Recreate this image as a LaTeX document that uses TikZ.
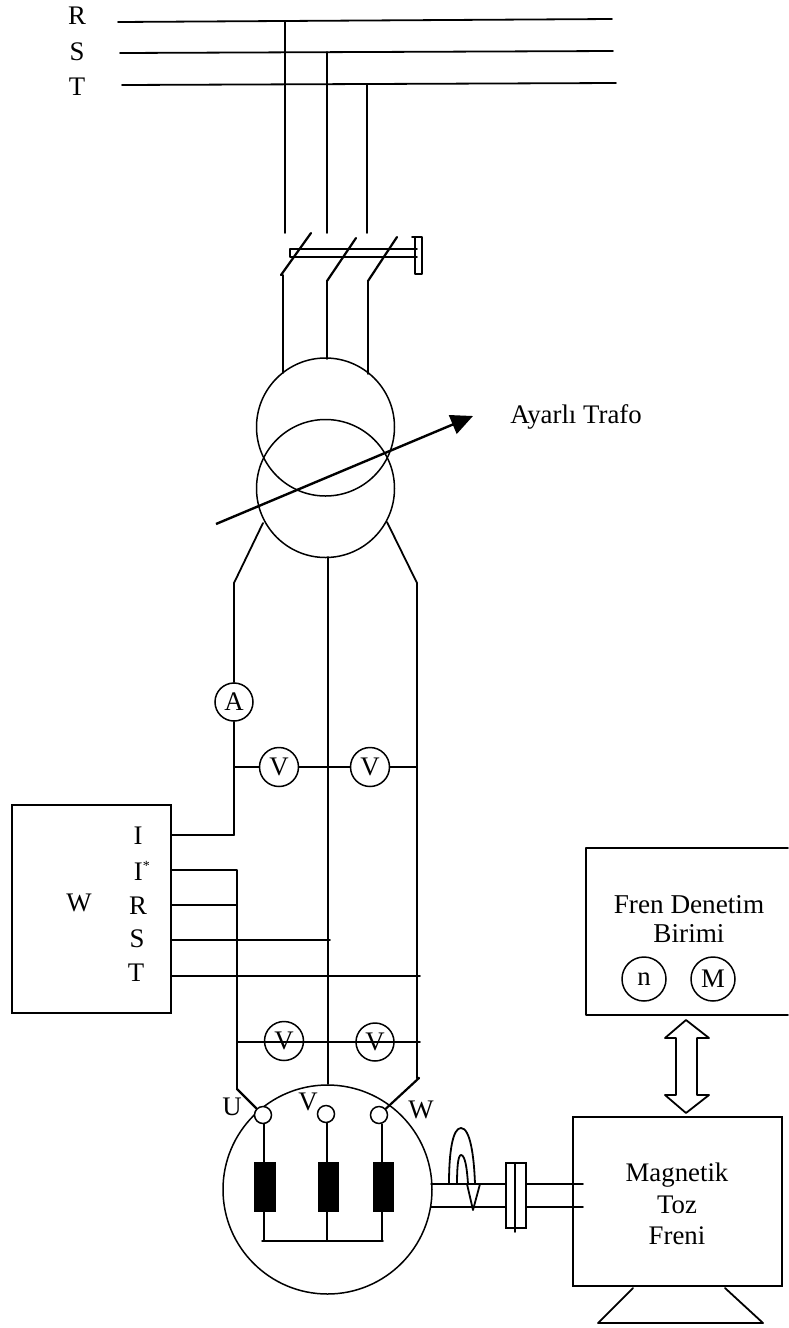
\documentclass[tikz,border=0pt]{standalone}
\usepackage{fontspec}
\setmainfont{Liberation Serif}
\usetikzlibrary{arrows.meta}
\tikzset{
  x=0.5pt,y=-0.5pt,
  wire/.style={line width=0.9pt,line cap=round,line join=round},
  thin wire/.style={line width=0.75pt,line cap=round,line join=round},
  lab/.style={inner sep=0pt,font=\fontsize{13.4}{15.5}\selectfont},
  meter/.style={circle,draw,line width=0.75pt,inner sep=0pt,minimum size=19.5pt,font=\fontsize{13.4}{15}\selectfont},
  term/.style={circle,draw,line width=0.75pt,inner sep=0pt,minimum size=8.5pt,fill=white},
  coil/.style={rectangle,fill=black,inner sep=0pt,minimum width=10.7pt,minimum height=25pt},
  blockbox/.style={rectangle,draw,line width=0.9pt,inner sep=0pt},
  winding/.style={circle,draw,line width=0.75pt,inner sep=0pt,minimum size=69pt},
}
\begin{document}
\begin{tikzpicture}
\useasboundingbox (0,0) rectangle (788,1328);
% bus bars
\coordinate (Ra) at (118,22); \coordinate (Rb) at (612,19);
\coordinate (Sa) at (120,53); \coordinate (Sb) at (613,51);
\coordinate (Ta) at (122,85); \coordinate (Tb) at (616,83);
\draw[wire] (Ra)--(Rb); \draw[wire] (Sa)--(Sb); \draw[wire] (Ta)--(Tb);
\node[lab] (lR) at (77,16) {R}; \node[lab] (lS) at (77,52) {S}; \node[lab] (lT) at (77,87) {T};
% supply drops
\coordinate (r0) at (285,21); \coordinate (r1) at (285,233);
\coordinate (s0) at (327,52); \coordinate (s1) at (327,233);
\coordinate (t0) at (367,84); \coordinate (t1) at (367,233);
\draw[wire] (r0)--(r1); \draw[wire] (s0)--(s1); \draw[wire] (t0)--(t1);
% switch
\coordinate (b1a) at (311,233); \coordinate (b1b) at (281,275);
\coordinate (b2a) at (356,238); \coordinate (b2b) at (327,281);
\coordinate (b3a) at (397,237); \coordinate (b3b) at (368,281);
\draw[wire,line width=1.1pt] (b1a)--(b1b); \draw[wire,line width=1.1pt] (b2a)--(b2b); \draw[wire,line width=1.1pt] (b3a)--(b3b);
\coordinate (bar1) at (417,249); \coordinate (bar2) at (290,249); \coordinate (bar3) at (290,257); \coordinate (bar4) at (417,257);
\draw[wire] (bar1)--(bar2)--(bar3)--(bar4);
\coordinate (h0) at (412,237); \coordinate (h1) at (422,237); \coordinate (h2) at (422,274); \coordinate (h3) at (415,274); \coordinate (h4) at (415,237);
\draw[wire] (h0)--(h1)--(h2)--(h3)--(h4);
% transformer
\node[winding] (tr1) at (325.5,427) {};
\node[winding] (tr2) at (325.5,488.5) {};
\coordinate (u1) at (283,373); \coordinate (v1) at (327,359); \coordinate (w1) at (368,374); \coordinate (u0) at (283,275);
\draw[wire] (b1b)--(u0)--(u1); \draw[wire] (b2b)--(v1); \draw[wire] (b3b)--(w1);
\coordinate (arrA) at (216,524); \coordinate (arrB) at (473,416);
\draw[line width=1.2pt,-{Triangle[length=11pt,width=10pt]}] (arrA)--(arrB);
\node[lab,anchor=west] (ayarli) at (510,417) {Ayarlı Trafo};
% lines below transformer
\coordinate (la) at (263,523); \coordinate (lb) at (234,583);
\coordinate (ra) at (387,522); \coordinate (rb) at (417,583);
\coordinate (ca) at (328,557); \coordinate (cb) at (328,1084);
\node[meter,minimum size=19pt] (A) at (234,702) {A};
\node[meter] (V1) at (279,767) {V};
\node[meter] (V2) at (370,767) {V};
\coordinate (j1) at (234,767); \coordinate (j2) at (417,767); \coordinate (Ic) at (234,835);
\draw[wire] (la)--(lb)--(A); \draw[wire] (A)--(Ic);
\draw[wire] (ca)--(cb);
\coordinate (re) at (417,1078); \coordinate (wtip) at (419,1078);
\draw[wire] (ra)--(rb)--(re);
\draw[wire] (j1)--(V1); \draw[wire] (V1)--(V2); \draw[wire] (V2)--(j2);
% wattmeter
\node[blockbox,minimum width=79.5pt,minimum height=104pt] (W) at (91.5,909) {};
\node[lab] (lW) at (79,903) {W};
\node[lab] (lI) at (138,836) {I};
\node[lab,anchor=west] (lIs) at (133.5,871) {I\raisebox{5pt}{\fontsize{7}{7}\selectfont*}};
\node[lab] (lWR) at (138,906) {R};
\node[lab] (lWS) at (137,939) {S};
\node[lab] (lWT) at (136,973) {T};
\coordinate (wI) at (171,835); \coordinate (wIs) at (171,870); \coordinate (wR) at (171,905); \coordinate (wS) at (171,940); \coordinate (wT) at (171,976);
\coordinate (uI) at (237,870); \coordinate (uR) at (237,905); \coordinate (sE) at (330,940); \coordinate (tE) at (420,976); \coordinate (uE) at (237,1089);
\draw[wire] (wI)--(Ic);
\draw[wire] (wIs)--(uI)--(uE);
\draw[wire] (wR)--(uR);
\draw[wire] (wS)--(sE);
\draw[wire] (wT)--(tE);
% lower voltmeters
\node[meter] (V3) at (284,1041) {V};
\node[meter,minimum size=19pt] (V4) at (375,1042) {V};
\coordinate (k1) at (237,1042); \coordinate (k2) at (420,1042);
\draw[thin wire] (k1)--(k2);
% shaft
\coordinate (sh1a) at (431,1184); \coordinate (sh1b) at (583,1184);
\coordinate (sh2a) at (431,1207); \coordinate (sh2b) at (583,1207);
\draw[thin wire] (sh1a)--(sh1b); \draw[thin wire] (sh2a)--(sh2b);
% motor
\node[circle,draw,line width=0.75pt,inner sep=0pt,minimum size=104.5pt] (M) at (327.5,1189.5) {};
\node[coil] (cu) at (265,1187) {}; \node[coil] (cv) at (328.5,1187) {}; \node[coil] (cw) at (383.5,1187) {};
\node[term] (tu) at (263,1115) {}; \node[term] (tv) at (326,1114) {}; \node[term] (tw) at (379,1115) {};
\coordinate (ub) at (262,1241); \coordinate (vb) at (327,1241); \coordinate (wb) at (383,1241);
\coordinate (ux) at (264,1241); \coordinate (wx) at (382,1241);
\draw[thin wire] (tu.south -| ux)--(ux |- cu.north);
\draw[thin wire] (tv.south -| vb)--(vb |- cv.north);
\draw[thin wire] (tw.south -| wx)--(wx |- cw.north);
\draw[thin wire] (ub)--(wb);
\draw[thin wire] (ux |- cu.south)--(ux);
\draw[thin wire] (vb |- cv.south)--(vb);
\draw[thin wire] (wx |- cw.south)--(wx);
\draw[wire,line width=1.1pt] (uE)--(tu); \draw[wire,line width=1.1pt] (re)--(wtip)--(tw);
\node[lab] (lU) at (232,1107) {U}; \node[lab] (lV) at (308,1102) {V}; \node[lab] (lMW) at (421,1110) {W};
% rotation arrow
\coordinate (ro1) at (449,1184); \coordinate (ro2) at (475,1184); \coordinate (ri1) at (457,1184); \coordinate (ri2) at (468,1184);
\coordinate (hl) at (467,1184); \coordinate (hr) at (480,1184); \coordinate (ht) at (473,1210);
\draw[wire,fill=white] (ro1) .. controls (449,1150) and (453,1128) .. (461,1128) .. controls (470,1128) and (474,1155) .. (ro2) -- (ri2) .. controls (467,1168) and (465,1155) .. (461,1155) .. controls (458,1155) and (457,1168) .. (ri1) -- cycle;
\draw[wire,fill=white] (hl)--(hr)--(ht)--cycle;
\draw[wire] (ro1)--(hl);
% coupling
\node[rectangle,draw,line width=0.9pt,fill=white,inner sep=0pt,minimum width=10pt,minimum height=32.5pt] (cpl) at (516,1195.5) {};
\coordinate (cp1) at (515,1163); \coordinate (cp2) at (515,1232);
\draw[wire] (cp1)--(cp2);
% brake
\node[blockbox,minimum width=104.5pt,minimum height=84.5pt] (Br) at (677.5,1201.5) {};
\node[lab,align=center] (Brt) at (677,1204) {Magnetik\\[0.3pt]Toz\\[0.3pt]Freni};
\coordinate (lg1) at (633,1288); \coordinate (lg2) at (598,1323); \coordinate (lg3) at (763,1323); \coordinate (lg4) at (725,1288);
\draw[wire] (lg1)--(lg2)--(lg3)--(lg4);
% control unit
\coordinate (fa) at (788,848); \coordinate (fb) at (586,848); \coordinate (fc) at (586,1015); \coordinate (fd) at (788,1015);
\draw[wire] (fa)--(fb)--(fc)--(fd);
\node[lab,align=center,font=\fontsize{13.6}{14.5}\selectfont] (Frt) at (689,919) {Fren Denetim\\Birimi};
\node[meter,minimum size=22pt] (n) at (644,979) {n};
\node[meter,minimum size=22pt] (Mm) at (713,979) {M};
% double arrow
\coordinate (da0) at (686,1020); \coordinate (da1) at (709,1038); \coordinate (da2) at (697,1038); \coordinate (da3) at (697,1095); \coordinate (da4) at (709,1095); \coordinate (da5) at (686,1113); \coordinate (da6) at (665,1095); \coordinate (da7) at (676,1095); \coordinate (da8) at (676,1038); \coordinate (da9) at (665,1038);
\draw[wire] (da0)--(da1)--(da2)--(da3)--(da4)--(da5)--(da6)--(da7)--(da8)--(da9)--cycle;
\end{tikzpicture}
\end{document}
